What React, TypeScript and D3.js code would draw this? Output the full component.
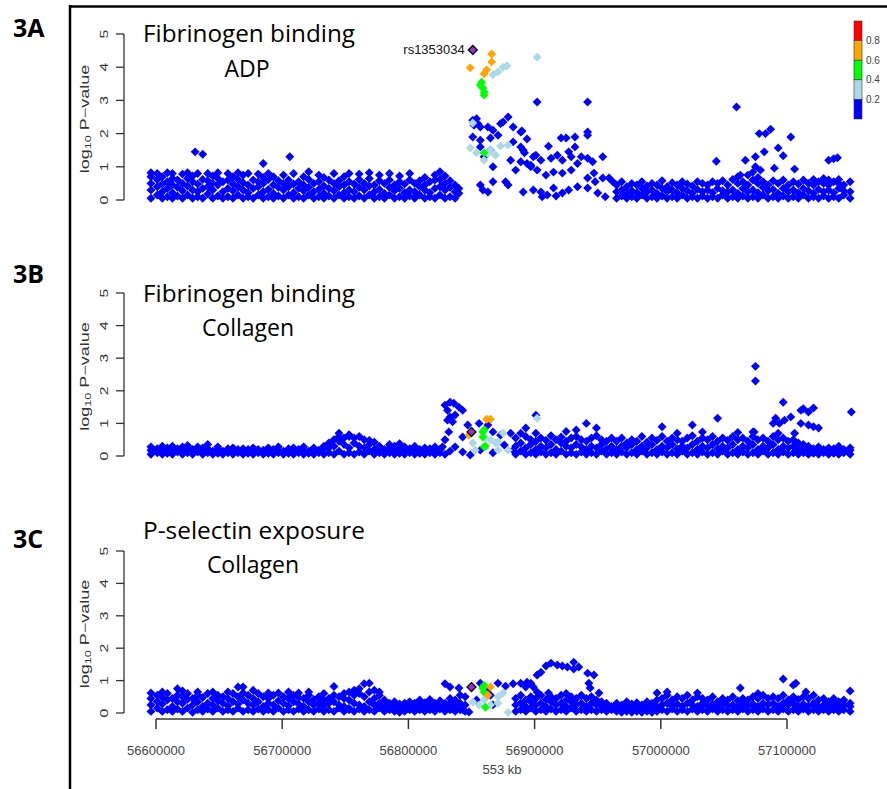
import React from "react";
import * as d3 from "d3";

// each group: [position in kb, -log10 p, -log10 p, ...]
type Group = number[];

const xTicks = [56600000, 56700000, 56800000, 56900000, 57000000, 57100000];
const yTicks = [0, 1, 2, 3, 4, 5];
const ldLabels = ["0.8", "0.6", "0.4", "0.2"];
const ldColors = ["#FF0000", "#FFA500", "#00FF00", "#ADD8E6", "#0000FF"];
const indexSnp = "rs1353034";
const xLabel = "553 kb";

// ---------- 3A : Fibrinogen binding ADP ----------
const blueA: Group[] = [
  [56596, .05, .3, .5, .7, .82], [56601, .15, .4, .62, .8], [56605, .05, .25, .48, .7], [56609, .1, .35, .55, .82],
  [56613, .05, .22, .45, .65, .8], [56617, .12, .38, .6], [56621, .05, .28, .5, .78], [56625, .15, .42, .65, .82],
  [56629, .05, .3, .55, .72], [56633, .1, .25, .48, .8], [56637, .05, .35, .62], [56641, .18, .4, .58, .8],
  [56645, .05, .3, .5, .72], [56649, .12, .45, .65, .82], [56653, .05, .25, .55], [56657, .1, .35, .6, .8],
  [56661, .05, .28, .48, .7], [56665, .15, .4, .62, .82], [56669, .05, .3, .52, .75], [56673, .1, .22, .45, .8],
  [56677, .05, .35, .6], [56681, .15, .4, .55, .78], [56685, .05, .25, .5, .68], [56689, .1, .32, .62, .8],
  [56693, .05, .2, .45, .7], [56697, .12, .38, .58],
  [56701, .05, .3, .5, .75], [56705, .15, .4, .6], [56709, .05, .22, .48, .8], [56713, .1, .35, .55],
  [56717, .05, .28, .45, .7], [56721, .15, .38, .62, .85], [56725, .05, .25, .5], [56729, .1, .32, .55, .75],
  [56733, .05, .2, .42, .68], [56737, .12, .35, .6], [56741, .05, .28, .5, .8], [56745, .15, .4, .58],
  [56749, .05, .22, .45, .7], [56753, .1, .3, .55, .8], [56757, .05, .25, .48], [56761, .12, .38, .62, .78],
  [56765, .05, .3, .5], [56769, .15, .42, .65, .82], [56773, .05, .25, .45], [56777, .1, .32, .58, .75],
  [56781, .05, .2, .5], [56785, .15, .38, .6, .8], [56789, .05, .28, .45], [56793, .1, .35, .55, .72],
  [56797, .05, .22, .48], [56801, .12, .3, .6, .8], [56805, .05, .25, .5], [56809, .15, .4, .58],
  [56813, .05, .3, .45, .68], [56817, .1, .22, .55], [56821, .05, .35, .6, .75], [56825, .15, .4, .62, .85],
  [56829, .05, .3, .5, .72], [56833, .1, .38, .58], [56837, .05, .25, .45], [56840, .2, .35],
  // isolated points on the left
  [56631, 1.45], [56637, 1.38], [56685, 1.1], [56706, 1.3],
  // peak region
  [56857, .45], [56859, .3], [56863, .24], [56867, .55], [56877, .55], [56879, .45],
  [56851, 2.4, 1.9], [56855, 2.3], [56857, 2.2, 1.8, 1.6], [56852, 2.25], [56854, 2.45],
  [56863, 2.2], [56867, 2.1, 1.0], [56873, 2.3], [56875, 2.35], [56879, 2.5], [56883, 2.2, 1.75],
  [56890, 2.08], [56865, 1.87, 1.5], [56871, 1.95], [56889, 2.05, 1.15, 1.6], [56860, 1.3],
  [56894, 1.84, 1.1], [56902, 2.95, .9], [56942, 2.95, 2.05, 1.95, 1.26, .66, .36], [57060, 2.8],
  [56921, 1.87], [56925, 1.87], [56932, 1.9, 1.6], [56911, 1.62], [56891, 1.5, .24], [56892, 1.42],
  [56901, 1.35], [56905, 1.2, .24], [56913, 1.26], [56918, 1.35], [56922, 1.2, .81, .21], [56927, 1.45, .3],
  [56929, 1.3, .9], [56937, 1.3], [56946, 1.15], [56954, 1.3, .66], [56909, .75], [56915, .84, .36],
  [56934, 1.1, .4], [56947, .81], [56948, .55], [56959, .66], [56962, .55], [56897, 1.05, 1.0],
  [56885, .9], [56881, 1.2], [56899, 1.3, .3], [56906, .1], [56910, .15], [56917, .12],
  [56950, .21], [56956, .1],
  // right-hand band
  [56965, .05, .25, .45], [56969, .12, .3, .55], [56973, .05, .2, .4], [56977, .1, .28, .5],
  [56981, .05, .22, .45], [56985, .15, .35, .55], [56989, .05, .25, .42], [56993, .1, .3, .5],
  [56997, .05, .2, .45], [57001, .12, .35, .58], [57005, .05, .25, .4], [57009, .1, .3, .52],
  [57013, .05, .22, .45], [57017, .15, .35, .55], [57021, .05, .28, .48], [57025, .1, .2, .42],
  [57029, .05, .32, .55], [57033, .12, .25, .5], [57037, .05, .3, .45], [57041, .1, .22, .55],
  [57045, .05, .35, .5], [57049, .15, .28, .58], [57053, .05, .25, .45], [57057, .1, .3, .62],
  [57061, .05, .2, .5, .7], [57065, .12, .35, .55], [57069, .05, .25, .45, .75], [57073, .1, .3, .6],
  [57077, .05, .22, .5, .68], [57081, .15, .38, .55], [57085, .05, .28, .45], [57089, .1, .32, .58],
  [57093, .05, .2, .5], [57097, .12, .35, .6], [57101, .05, .25, .45], [57105, .1, .3, .55],
  [57109, .05, .22, .48], [57113, .15, .35, .6], [57117, .05, .28, .5], [57121, .1, .2, .45, .62],
  [57125, .05, .32, .55], [57129, .12, .25, .5, .65], [57133, .05, .3, .45, .6], [57137, .1, .22, .55],
  [57141, .05, .35, .5, .62], [57145, .15, .28, .45], [57150, .05, .25, .55],
  // scattered higher points on the right
  [57044, 1.17], [57075, 1.3, 1.0], [57082, 1.45], [57078, 2.0], [57083, 2.0], [57087, 2.13],
  [57093, 1.57], [57097, 1.33], [57103, 1.9], [57079, .9], [57090, .96], [57106, .93],
  [57133, 1.2], [57140, 1.27], [57137, 1.24], [57073, .84], [57067, 1.2], [57063, .75],
];
const lightblueA: Group[] = [
  [56867, 3.77], [56871, 3.86], [56875, 4.0], [56878, 4.04], [56902, 4.3], [56851, 2.32],
  [56849, 1.57], [56865, 1.5], [56873, 1.63], [56879, 1.66], [56860, 1.2], [56854, 1.42],
  [56863, 1.4], [56869, 1.35],
];
const greenA: Group[] = [[56857, 3.46], [56859, 3.37], [56860, 3.25, 3.16, 1.42], [56858, 3.55]];
const orangeA: Group[] = [[56849, 3.98], [56866, 4.4, 4.16], [56862, 3.92], [56860, 3.8]];
const indexA: Group = [56851, 4.52];

// ---------- 3B : Fibrinogen binding Collagen ----------
const blueB: Group[] = [
  [56596, .05, .18, .28], [56601, .1, .22], [56605, .05, .15, .3], [56609, .08, .25], [56613, .05, .18, .3],
  [56617, .12, .22], [56621, .05, .15, .28], [56625, .1, .25, .32], [56629, .05, .2], [56633, .12, .28],
  [56637, .05, .18, .25], [56641, .1, .22, .35], [56645, .05, .15], [56649, .08, .2, .28], [56653, .05, .15],
  [56657, .1, .22], [56661, .05, .18, .25], [56665, .1, .2], [56669, .05, .15, .22], [56673, .08, .2],
  [56677, .05, .15, .25], [56681, .1, .2], [56685, .05, .18], [56689, .08, .15, .25], [56693, .05, .2],
  [56697, .1, .18, .28], [56701, .05, .15], [56705, .08, .22], [56709, .05, .15, .25], [56713, .1, .2],
  [56717, .05, .18, .28], [56721, .08, .15], [56725, .05, .2, .25], [56729, .1, .18], [56733, .05, .22, .3],
  [56737, .1, .25, .4], [56741, .05, .3, .5], [56745, .15, .45, .6, .7], [56749, .05, .35, .55],
  [56753, .1, .25, .6, .65], [56757, .05, .4, .55], [56761, .12, .3, .6], [56765, .05, .25, .5],
  [56769, .15, .35, .48], [56773, .05, .2, .42], [56777, .1, .3], [56781, .05, .2], [56785, .1, .25, .35],
  [56789, .05, .18, .3], [56793, .08, .25, .38], [56797, .05, .15, .28], [56801, .1, .22], [56805, .05, .18, .3],
  [56809, .08, .2], [56813, .05, .15, .25], [56817, .1, .22], [56821, .05, .18, .28], [56825, .1, .2],
  // spike next to the index SNP
  [56829, 1.56, .5, .05], [56833, 1.65, 1.2, .15], [56836, 1.62], [56840, 1.5], [56843, 1.4, .58, .12],
  [56831, 1.4, 1.1], [56837, 1.26, .28], [56835, 1.05], [56832, .74], [56827, .28], [56849, .03],
  [56847, .95], [56856, 1.0], [56863, .95], [56857, .18], [56867, .1, .74], [56873, .64], [56881, .7],
  [56883, .18], [56876, .34],
  [56885, .05, .3, .55], [56889, .15, .4, .7], [56893, .05, .25, .6, .86], [56897, .1, .35, .5],
  [56901, .05, .2, .45, .7, 1.25], [56905, .12, .3, .55], [56909, .05, .25, .48], [56913, .1, .35, .62],
  [56917, .05, .2, .5], [56921, .15, .4, .58], [56925, .05, .3, .45, .75], [56929, .1, .25, .55],
  [56933, .05, .35, .6, .8], [56937, .12, .28, .5], [56941, .05, .2, .45, 1.0], [56945, .1, .3, .55],
  [56949, .05, .25, .62, .86], [56953, .15, .35, .5], [56957, .05, .22, .45], [56961, .1, .3, .55],
  [56965, .05, .2, .45], [56969, .12, .3, .55], [56973, .05, .25, .4], [56977, .1, .35, .5],
  [56981, .05, .2, .45], [56985, .15, .3, .6], [56989, .05, .25, .42], [56993, .1, .35, .55],
  [56997, .05, .2, .48], [57001, .12, .3, .6, .9], [57005, .05, .25, .45], [57009, .1, .35, .55],
  [57013, .05, .22, .5, .7], [57017, .15, .3, .45], [57021, .05, .25, .55], [57025, .1, .35, .62, .95],
  [57029, .05, .2, .45], [57033, .12, .3, .55, .74], [57037, .05, .25, .5], [57041, .1, .35, .6],
  [57045, .05, .22, .45, 1.16], [57049, .15, .3, .55], [57053, .05, .25, .48], [57057, .1, .35, .6],
  [57061, .05, .2, .5, .72], [57065, .12, .3, .55], [57069, .05, .25, .45], [57073, .1, .35, .6, .74],
  [57077, .05, .2, .5], [57081, .15, .3, .55], [57085, .05, .25, .45], [57089, .1, .35, .6, 1.0],
  [57093, .05, .2, .5, .7], [57097, .12, .3, .55, 1.65], [57101, .05, .25, .45], [57105, .1, .3, .5],
  [57109, .05, .2, .4], [57113, .1, .25, .35, 1.45], [57117, .05, .18, .3, 1.35, .95], [57121, .08, .22, 1.47, .9],
  [57125, .05, .15, .28, .86], [57129, .1, .2], [57133, .05, .18, .25], [57137, .08, .22], [57141, .05, .15, .3],
  [57145, .1, .2], [57150, .05, .18, .25],
  [57075, 2.75, 2.3], [57111, 1.4, 1.0], [57091, 1.16], [57094, 1.0], [57098, 1.1], [57103, 1.2],
  [57106, .7], [57074, .74], [57151, 1.35],
];
const lightblueB: Group[] = [
  [56851, .4], [56853, .18], [56861, .55], [56865, .5], [56869, .4], [56871, .43, .18], [56875, .7],
  [56879, .18], [56902, 1.16],
];
const greenB: Group[] = [[56859, .74, .58], [56860, .8, .28], [56861, .3]];
const orangeB: Group[] = [[56848, .64], [56862, 1.13], [56865, 1.13]];
const indexB: Group = [56850, .74];

// ---------- 3C : P-selectin exposure Collagen ----------
const blueC: Group[] = [
  [56596, .05, .25, .45, .62], [56601, .15, .35, .55], [56605, .05, .28, .48, .65], [56609, .1, .4, .6],
  [56613, .05, .2, .45], [56617, .12, .35, .55, .75], [56621, .05, .3, .5, .68], [56625, .15, .42, .6],
  [56629, .02, .25, .45], [56633, .1, .35, .55, .65], [56637, .05, .2, .48], [56641, .12, .3, .6],
  [56645, .05, .25, .45, .65], [56649, .15, .38, .55], [56653, .05, .3, .5], [56657, .1, .22, .45, .65],
  [56661, .05, .35, .6], [56665, .15, .28, .5, .8], [56669, .05, .4, .62, .8], [56673, .1, .3, .55],
  [56677, .05, .25, .45, .7], [56681, .12, .35, .6], [56685, .05, .2, .5], [56689, .1, .3, .45, .62],
  [56693, .05, .25, .55], [56697, .15, .38, .62], [56701, .05, .3, .5], [56705, .1, .22, .45, .65],
  [56709, .05, .35, .55], [56713, .12, .28, .48, .62], [56717, .05, .2, .45], [56721, .1, .35, .55, .65],
  [56725, .05, .25, .42], [56729, .12, .3, .5], [56733, .05, .22, .4, .6], [56737, .1, .3, .45],
  [56741, .05, .35, .55, .82], [56745, .15, .25, .5], [56749, .05, .2, .45, .6], [56753, .1, .15, .4, .65],
  [56757, .05, .3, .55, .7], [56761, .12, .25, .6, .75], [56765, .05, .2, .5, .9], [56769, .1, .35, .65, .92],
  [56773, .05, .25, .45, .7], [56777, .15, .3, .55, .65], [56781, .05, .2, .4], [56785, .1, .15, .3],
  [56789, .05, .2, .35], [56793, .02, .15, .28], [56797, .05, .2, .3], [56801, .1, .25, .35],
  [56805, .05, .15, .3], [56809, .1, .22, .4], [56813, .05, .18, .32], [56817, .1, .25, .42],
  [56821, .05, .2, .3], [56825, .12, .28, .38], [56829, .05, .2, .3, .9], [56833, .1, .3, .45, .8],
  [56837, .05, .2, .4], [56841, .1, .3, .55], [56845, .05, .25, .5],
  [56857, .92], [56871, .92], [56883, .9], [56840, .77], [56848, .03], [56843, .1], [56865, .55],
  [56867, .25], [56877, .83], [56889, .92], [56854, .4], [56862, .7],
  // hump east of the index SNP
  [56902, 1.17, .65], [56905, 1.26], [56909, 1.45], [56913, 1.54], [56918, 1.48], [56922, 1.45],
  [56926, 1.42], [56931, 1.57, 1.36], [56935, 1.42], [56942, 1.23], [56947, 1.17], [56943, .92],
  [56944, .77], [56951, .62], [56897, .92], [56899, .8], [56894, .95], [56911, .62], [56893, .8],
  [56885, .05, .25, .45], [56889, .1, .3, .55], [56893, .05, .2, .4], [56897, .15, .35, .5],
  [56901, .05, .25, .45], [56905, .1, .3, .55], [56909, .05, .2, .42], [56913, .12, .35, .5],
  [56917, .05, .25, .45], [56921, .1, .3, .55], [56925, .05, .2, .4, .6], [56929, .15, .35, .5],
  [56933, .05, .25, .45], [56937, .1, .3, .55], [56941, .05, .2, .45], [56945, .1, .3, .5],
  [56949, .05, .25, .4], [56953, .1, .2, .35], [56957, .05, .15, .3], [56961, .1, .2],
  [56965, .05, .18, .3], [56969, .02, .15, .25], [56973, .05, .2, .35], [56977, .02, .12, .28],
  [56981, .05, .2, .32], [56985, .02, .15, .25], [56989, .05, .22, .35], [56993, .02, .12, .3],
  [56997, .05, .2, .4, .62], [57001, .1, .25, .45], [57005, .05, .3, .55, .65], [57009, .12, .2, .4],
  [57013, .05, .28, .5], [57017, .1, .2, .45], [57021, .05, .3, .55], [57025, .12, .25, .4],
  [57029, .05, .2, .5, .62], [57033, .1, .3, .45], [57037, .05, .22, .4], [57041, .12, .28, .5],
  [57045, .05, .2, .35], [57049, .1, .3, .45], [57053, .05, .22, .4], [57057, .1, .25, .5],
  [57061, .05, .2, .38], [57063, .77], [57065, .12, .3, .45], [57069, .05, .22, .4], [57073, .1, .28, .5],
  [57077, .05, .2, .45, .6], [57081, .12, .3, .55], [57085, .05, .25, .45], [57089, .1, .3, .5],
  [57093, .05, .2, .45], [57097, .12, .3, .55, 1.05], [57101, .05, .25, .4], [57105, .1, .3, .5, .86],
  [57107, .92], [57109, .05, .2, .42], [57113, .12, .28, .5], [57115, .65], [57117, .05, .22, .45],
  [57121, .1, .3, .55], [57125, .05, .2, .4], [57129, .1, .25, .45], [57133, .05, .2, .35],
  [57137, .1, .28, .45], [57141, .05, .18, .35], [57145, .1, .25, .4], [57150, .05, .2, .3, .68],
];
const lightblueC: Group[] = [
  [56875, .62], [56871, .5, .3], [56861, .46], [56851, .34], [56860, .4], [56879, .02], [56865, .25], [56856, .25],
];
const greenC: Group[] = [[56859, .77], [56860, .85, .65], [56861, .18]];
const orangeC: Group[] = [[56865, .8], [56863, .55]];
const indexC: Group = [56850, .8];

const toPts = (groups: Group[]) =>
  groups.flatMap(([kb, ...ys]) => ys.map((y) => ({ x: kb * 1000, y })));

const panels = [
  {
    label: "3A", labelY: 37, title: ["Fibrinogen binding", "ADP"], titleY: [42, 77], line2X: 247,
    y0: 200, y5: 34, series: [blueA, lightblueA, greenA, orangeA], index: indexA, legend: true, axis: false,
  },
  {
    label: "3B", labelY: 283, title: ["Fibrinogen binding", "Collagen"], titleY: [302, 336], line2X: 248,
    y0: 456, y5: 293, series: [blueB, lightblueB, greenB, orangeB], index: indexB, legend: false, axis: false,
  },
  {
    label: "3C", labelY: 548, title: ["P-selectin exposure", "Collagen"], titleY: [539, 573], line2X: 253,
    y0: 713, y5: 551, series: [blueC, lightblueC, greenC, orangeC], index: indexC, legend: false, axis: true,
  },
];

const seriesColors = ["#0000FF", "#ADD8E6", "#00FF00", "#FFA500"];
const diamond = d3.symbol().type(d3.symbolSquare).size(40)() as string;
const bigDiamond = d3.symbol().type(d3.symbolSquare).size(40)() as string;

const x = d3.scaleLinear().domain([56600000, 57100000]).range([156, 787]);

const axisFont = "'Liberation Sans', Arial, sans-serif";
const titleFont = "'Open Sans', sans-serif";

export default function App() {
  return (
    <svg width={887} height={789} style={{ position: "absolute", left: 0, top: 0, background: "#fff" }}>
      <line x1={70} y1={5} x2={70} y2={789} stroke="#000" strokeWidth={2.5} />
      <line x1={69} y1={6.5} x2={887} y2={6.5} stroke="#000" strokeWidth={2.5} />
      {panels.map((p) => {
        const y = d3.scaleLinear().domain([0, 5]).range([p.y0, p.y5]);
        const mid = (p.y0 + p.y5) / 2 + 2;
        return (
          <g key={p.label}>
            <text x={13} y={p.labelY} fontFamily={titleFont} fontWeight={700} fontSize={25} fill="#000">{p.label}</text>
            <text x={143} y={p.titleY[0]} fontFamily={titleFont} fontSize={23} textLength={p.title[0].length > 18 ? 222 : 212}
              lengthAdjust="spacingAndGlyphs" fill="#000">{p.title[0]}</text>
            <text x={p.line2X} y={p.titleY[1]} fontFamily={titleFont} fontSize={23} textAnchor="middle" fill="#000">{p.title[1]}</text>

            {/* y axis */}
            <line x1={124} x2={124} y1={y(0)} y2={y(5)} stroke="#333" strokeWidth={1.3} />
            {yTicks.map((t) => (
              <g key={t}>
                <line x1={116} x2={124} y1={y(t)} y2={y(t)} stroke="#333" strokeWidth={1.3} />
                <text transform={`translate(104,${y(t)}) rotate(-90) scale(1.5,1)`} textAnchor="middle" dominantBaseline="central"
                  fontFamily={axisFont} fontSize={10.5} fill="#333">{t}</text>
              </g>
            ))}
            <text transform={`translate(89,${mid}) rotate(-90) scale(1.5,1)`} textAnchor="middle" fontFamily={axisFont} fontSize={12} fill="#333">
              log<tspan fontSize={8.5} dy={2}>10</tspan><tspan dy={-2}> P−value</tspan>
            </text>

            {/* points */}
            {p.series.map((s, i) =>
              toPts(s).map((d, j) => (
                <path key={`${i}-${j}`} d={diamond} fill={seriesColors[i]}
                  transform={`translate(${x(d.x)},${y(d.y)}) rotate(45)`} />
              ))
            )}
            <path d={bigDiamond} fill="#9932CC" stroke="#000" strokeWidth={1.3}
              transform={`translate(${x(p.index[0] * 1000)},${y(p.index[1])}) rotate(45)`} />
            {p.legend && (
              <text x={x(p.index[0] * 1000) - 8} y={y(p.index[1]) + 4.5} textAnchor="end" fontFamily={axisFont} fontSize={13} fill="#111">
                {indexSnp}
              </text>
            )}

            {p.legend && (
              <g>
                {ldColors.map((c, i) => (
                  <rect key={c} x={854} y={21 + i * 19.6} width={8} height={19.6} fill={c} stroke="#333" strokeWidth={0.6} />
                ))}
                {ldLabels.map((l, i) => (
                  <text key={l} x={866} y={21 + (i + 1) * 19.6} dominantBaseline="central" fontFamily={axisFont} fontSize={10} fill="#444">{l}</text>
                ))}
              </g>
            )}

            {p.axis && (
              <g>
                <line x1={x(xTicks[0])} x2={x(xTicks[xTicks.length - 1])} y1={719} y2={719} stroke="#333" strokeWidth={1.5} />
                {xTicks.map((t) => (
                  <g key={t}>
                    <line x1={x(t)} x2={x(t)} y1={719} y2={729} stroke="#333" strokeWidth={1.5} />
                    <text x={x(t)} y={755} textAnchor="middle" fontFamily={axisFont} fontSize={13} fill="#444">{t}</text>
                  </g>
                ))}
                <text x={502} y={774} textAnchor="middle" fontFamily={axisFont} fontSize={13} fill="#444">{xLabel}</text>
              </g>
            )}
          </g>
        );
      })}
    </svg>
  );
}
